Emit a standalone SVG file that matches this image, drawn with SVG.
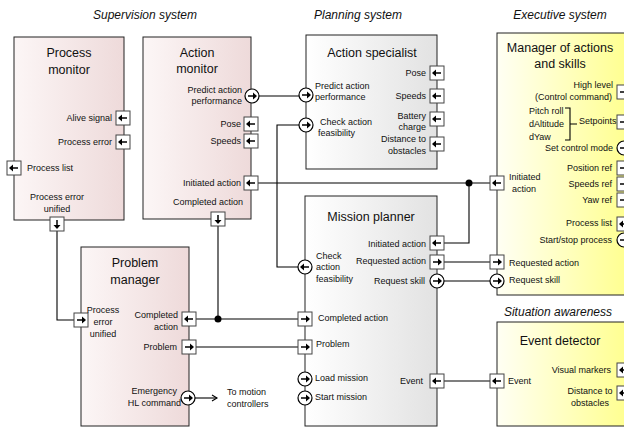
<svg xmlns="http://www.w3.org/2000/svg" xmlns:xlink="http://www.w3.org/1999/xlink" width="624" height="430" viewBox="0 0 624 430">
<style>
text{font-family:"Liberation Sans",Arial,sans-serif;fill:#111}
.h{font-size:12px;font-style:italic;text-anchor:middle}
.t{font-size:12.5px;text-anchor:middle}
.s{font-size:9px}
.r{text-anchor:end}
.m{text-anchor:middle}
.box{stroke:#222;stroke-width:1}
.pt{fill:#fff;stroke:#444;stroke-width:1}
.cp{fill:#fff;stroke:#000;stroke-width:1.2}
.ln{fill:none;stroke:#000;stroke-width:1.1}
.ar{fill:none;stroke:#000;stroke-width:1.5}
</style>
<defs>
<linearGradient id="gs" x1="0" y1="0" x2="1" y2="0"><stop offset="0" stop-color="#fcf6f6"/><stop offset="1" stop-color="#eedada"/></linearGradient>
<linearGradient id="gp" x1="0" y1="0" x2="1" y2="0"><stop offset="0" stop-color="#ffffff"/><stop offset="1" stop-color="#e2e2e2"/></linearGradient>
<linearGradient id="ge" x1="0" y1="0" x2="1" y2="0"><stop offset="0" stop-color="#fffff4"/><stop offset="1" stop-color="#ffff90"/></linearGradient>
<g id="sqL"><rect x="-7" y="-7" width="14" height="14" class="pt"/><path d="M4,0H-1" class="ar"/><path d="M-5,0L-1,-3.5V3.5Z"/></g>
<g id="sqR"><rect x="-7" y="-7" width="14" height="14" class="pt"/><path d="M-4,0H1" class="ar"/><path d="M5,0L1,-3.5V3.5Z"/></g>
<g id="sqD"><rect x="-7" y="-7" width="14" height="14" class="pt"/><path d="M0,-4V1" class="ar"/><path d="M0,5L-3.5,1H3.5Z"/></g>
<g id="cR"><circle r="7" class="cp"/><path d="M-4,0H1" class="ar"/><path d="M5,0L1,-3.5V3.5Z"/></g>
<g id="cL"><circle r="7" class="cp"/><path d="M4,0H-1" class="ar"/><path d="M-5,0L-1,-3.5V3.5Z"/></g>
<marker id="oa" markerWidth="8" markerHeight="8" refX="6" refY="4" orient="auto" markerUnits="userSpaceOnUse"><path d="M1,1L6,4L1,7" fill="none" stroke="#000" stroke-width="1.1"/></marker>
</defs>

<text class="h" x="145" y="19">Supervision system</text>
<text class="h" x="358" y="19">Planning system</text>
<text class="h" x="560" y="19">Executive system</text>
<text class="h" x="558" y="316">Situation awareness</text>

<g id="connectors">
<path class="ln" d="M259,96H299"/>
<path class="ln" d="M299,125H277V267H298"/>
<path class="ln" d="M258,183H490"/>
<path class="ln" d="M469,183V243H444"/>
<circle cx="469" cy="183" r="3.5"/>
<path class="ln" d="M444,262H490"/>
<path class="ln" d="M444,281H490"/>
<path class="ln" d="M444,381H490"/>
<path class="ln" d="M57,231V320H74"/>
<path class="ln" d="M218,226V319"/>
<path class="ln" d="M196,319H298"/>
<circle cx="218" cy="319" r="3.5"/>
<path class="ln" d="M196,347H298"/>
<path class="ln" d="M195,398H217" marker-end="url(#oa)"/>
</g>

<g id="process-monitor">
<rect class="box" x="14" y="37" width="110" height="183" fill="url(#gs)"/>
<text class="t" x="69" y="57">Process</text>
<text class="t" x="69" y="74">monitor</text>
<text class="s r" x="112" y="121">Alive signal</text>
<use xlink:href="#sqL" x="123" y="118"/>
<text class="s r" x="112" y="145">Process error</text>
<use xlink:href="#sqL" x="123" y="142"/>
<use xlink:href="#sqL" x="14" y="168"/>
<text class="s" x="27" y="171">Process list</text>
<text class="s m" x="57" y="200">Process error</text>
<text class="s m" x="57" y="212">unified</text>
<use xlink:href="#sqD" x="57" y="224"/>
</g>

<g id="action-monitor">
<rect class="box" x="143" y="37" width="108" height="182" fill="url(#gs)"/>
<text class="t" x="197" y="57">Action</text>
<text class="t" x="197" y="73">monitor</text>
<text class="s r" x="242" y="93">Predict action</text>
<text class="s r" x="242" y="104">performance</text>
<use xlink:href="#cR" x="252" y="96"/>
<text class="s r" x="241" y="127">Pose</text>
<use xlink:href="#sqL" x="251" y="124"/>
<text class="s r" x="241" y="144">Speeds</text>
<use xlink:href="#sqL" x="251" y="141"/>
<text class="s r" x="241" y="186">Initiated action</text>
<use xlink:href="#sqL" x="251" y="183"/>
<text class="s m" x="208" y="205">Completed action</text>
<use xlink:href="#sqD" x="218" y="219"/>
</g>

<g id="problem-manager">
<rect class="box" x="81" y="247" width="108" height="179" fill="url(#gs)"/>
<text class="t" x="135" y="267">Problem</text>
<text class="t" x="135" y="284">manager</text>
<use xlink:href="#sqR" x="81" y="320"/>
<text class="s m" x="103" y="313">Process</text>
<text class="s m" x="103" y="325">error</text>
<text class="s m" x="103" y="337">unified</text>
<text class="s r" x="178" y="318">Completed</text>
<text class="s r" x="178" y="330">action</text>
<use xlink:href="#sqL" x="189" y="319"/>
<text class="s r" x="177" y="350">Problem</text>
<use xlink:href="#sqR" x="189" y="347"/>
<text class="s r" x="177" y="394">Emergency</text>
<text class="s r" x="181" y="406">HL command</text>
<use xlink:href="#cR" x="188" y="398"/>
<text class="s" x="227" y="395">To motion</text>
<text class="s" x="227" y="407">controllers</text>
</g>

<g id="action-specialist">
<rect class="box" x="306" y="35" width="131" height="134" fill="url(#gp)"/>
<text class="t" x="372" y="57">Action specialist</text>
<use xlink:href="#cR" x="306" y="95"/>
<text class="s" x="315" y="89">Predict action</text>
<text class="s" x="315" y="100">performance</text>
<use xlink:href="#cR" x="306" y="125"/>
<text class="s" x="320" y="125">Check action</text>
<text class="s" x="318" y="136">feasibility</text>
<text class="s r" x="426" y="76">Pose</text>
<use xlink:href="#sqL" x="437" y="73"/>
<text class="s r" x="426" y="99">Speeds</text>
<use xlink:href="#sqL" x="437" y="96"/>
<text class="s r" x="426" y="119">Battery</text>
<text class="s r" x="426" y="130">charge</text>
<use xlink:href="#sqL" x="437" y="119"/>
<text class="s r" x="426" y="142">Distance to</text>
<text class="s r" x="426" y="154">obstacles</text>
<use xlink:href="#sqL" x="437" y="144"/>
</g>

<g id="mission-planner">
<rect class="box" x="305" y="196" width="132" height="230" fill="url(#gp)"/>
<text class="t" x="371" y="221">Mission planner</text>
<text class="s r" x="426" y="247">Initiated action</text>
<use xlink:href="#sqL" x="437" y="243"/>
<text class="s r" x="426" y="264">Requested action</text>
<use xlink:href="#sqR" x="437" y="262"/>
<text class="s r" x="425" y="284">Request skill</text>
<use xlink:href="#cR" x="437" y="281"/>
<use xlink:href="#cL" x="305" y="267"/>
<text class="s" x="316" y="259">Check</text>
<text class="s" x="316" y="270">action</text>
<text class="s" x="316" y="282">feasibility</text>
<use xlink:href="#sqR" x="305" y="319"/>
<text class="s" x="318" y="321">Completed action</text>
<use xlink:href="#sqR" x="305" y="347"/>
<text class="s" x="316" y="347">Problem</text>
<use xlink:href="#cR" x="305" y="379"/>
<text class="s" x="315" y="381">Load mission</text>
<use xlink:href="#cR" x="305" y="398"/>
<text class="s" x="315" y="400">Start mission</text>
<text class="s r" x="423" y="384">Event</text>
<use xlink:href="#sqL" x="437" y="381"/>
</g>

<g id="manager-actions-skills">
<rect class="box" x="497" y="33" width="130" height="262" fill="url(#ge)"/>
<text class="t" x="560" y="52">Manager of actions</text>
<text class="t" x="560" y="68">and skills</text>
<text class="s r" x="613" y="88">High level</text>
<text class="s r" x="612" y="100">(Control command)</text>
<use xlink:href="#sqR" x="624" y="92"/>
<text class="s" x="529" y="114">Pitch roll</text>
<text class="s" x="529" y="127">dAltitude</text>
<text class="s" x="529" y="140">dYaw</text>
<path class="ln" d="M565,108H570V140H565M570,124H577"/>
<text class="s" x="579" y="124">Setpoints</text>
<use xlink:href="#sqR" x="624" y="122"/>
<text class="s r" x="613" y="151">Set control mode</text>
<use xlink:href="#cR" x="624" y="148"/>
<text class="s r" x="612" y="171">Position ref</text>
<use xlink:href="#sqR" x="624" y="168"/>
<text class="s r" x="612" y="187">Speeds  ref</text>
<use xlink:href="#sqR" x="624" y="184"/>
<text class="s r" x="612" y="203">Yaw ref</text>
<use xlink:href="#sqR" x="624" y="200"/>
<text class="s r" x="612" y="226">Process list</text>
<use xlink:href="#sqL" x="624" y="224"/>
<text class="s r" x="612" y="243">Start/stop process</text>
<use xlink:href="#cR" x="624" y="240"/>
<use xlink:href="#sqL" x="497" y="183"/>
<text class="s" x="509" y="180">Initiated</text>
<text class="s" x="512" y="192">action</text>
<use xlink:href="#sqR" x="497" y="262"/>
<text class="s" x="509" y="266">Requested action</text>
<use xlink:href="#cR" x="497" y="281"/>
<text class="s" x="509" y="283">Request skill</text>
</g>

<g id="event-detector">
<rect class="box" x="497" y="322" width="130" height="104" fill="url(#ge)"/>
<text class="t" x="560" y="345">Event detector</text>
<text class="s r" x="611" y="373">Visual markers</text>
<use xlink:href="#sqL" x="624" y="370"/>
<text class="s m" x="590" y="394">Distance to</text>
<text class="s m" x="590" y="406">obstacles</text>
<use xlink:href="#sqL" x="624" y="393"/>
<use xlink:href="#sqL" x="497" y="381"/>
<text class="s" x="508" y="384">Event</text>
</g>
</svg>
